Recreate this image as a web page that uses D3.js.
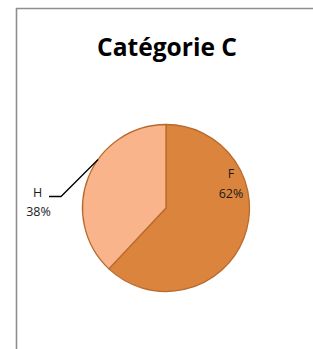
<!DOCTYPE html>
<html>
<head>
<meta charset="utf-8">
<script src="https://cdn.jsdelivr.net/npm/d3@7"></script>
<style>
  body { margin: 0; background: #fff; overflow: hidden; }
  svg { display: block; }
</style>
</head>
<body>
<div id="chart"></div>
<script>
// size
var chart_width = 313;
var chart_height = 349;

// data
var categories = ["F", "H"];
var values = [62, 38];
var colors = ["#DB843D", "#F9B48C"];
var title = "Catégorie C";

var font = "Open Sans, sans-serif";

var svg = d3.select("#chart").append("svg")
  .attr("width", chart_width)
  .attr("height", chart_height);

// chart frame: only the left and top edges fall inside the picture
svg.append("path")
  .attr("d", "M16.5," + chart_height + "V8.5H" + chart_width)
  .attr("fill", "none")
  .attr("stroke", "#8e8e8e")
  .attr("stroke-width", 1.6);

var t = svg.append("text")
  .attr("x", 167).attr("y", 56)
  .attr("text-anchor", "middle")
  .attr("font-family", font)
  .attr("font-weight", "bold")
  .attr("font-size", 20)
  .attr("fill", "#000")
  .text(title);
// fit title to the width seen in the picture (~140px)
var tw = t.node().getComputedTextLength();
t.attr("font-size", 20 * 140 / tw);

var cx = 166, cy = 208, radius = 83.5;

var pie = d3.pie().sort(null).value(function(d) { return d.value; });
var arc = d3.arc().innerRadius(0).outerRadius(radius);

var data = categories.map(function(c, i) {
  return { name: c, value: values[i], color: colors[i] };
});
var total = d3.sum(values);

var g = svg.append("g").attr("transform", "translate(" + cx + "," + cy + ")");

var arcs = pie(data);

g.selectAll("path").data(arcs).enter().append("path")
  .attr("d", arc)
  .attr("fill", function(d) { return d.data.color; })
  .attr("stroke", "#B86A2C")
  .attr("stroke-width", 1.3)
  .attr("stroke-linejoin", "round");

function pct(d) { return Math.round(d.data.value / total * 100) + "%"; }

// F label inside slice
var fx = 231, fy = 178;
var fText = svg.append("text")
  .attr("text-anchor", "middle")
  .attr("font-family", font)
  .attr("font-size", 12.5)
  .attr("fill", "#1a1a1a");
fText.append("tspan").attr("x", fx).attr("y", fy).text(arcs[0].data.name);
fText.append("tspan").attr("x", fx).attr("y", fy + 20).text(pct(arcs[0]));

// H label outside with leader line
var a1 = arcs[1];
var edgeAngle = -0.95; // rim point where the leader starts (radians from top)
var ex = cx + Math.sin(edgeAngle) * radius;
var ey = cy - Math.cos(edgeAngle) * radius;
svg.append("polyline")
  .attr("points", [[49, 196.5], [61, 196.5], [ex, ey]].map(function(p) { return p.join(","); }).join(" "))
  .attr("fill", "none")
  .attr("stroke", "#000")
  .attr("stroke-width", 1.3);

var hText = svg.append("text")
  .attr("text-anchor", "middle")
  .attr("font-family", font)
  .attr("font-size", 12.5)
  .attr("fill", "#1a1a1a");
hText.append("tspan").attr("x", 37.5).attr("y", 197).text(a1.data.name);
hText.append("tspan").attr("x", 38.5).attr("y", 216).text(pct(a1));
</script>
</body>
</html>
